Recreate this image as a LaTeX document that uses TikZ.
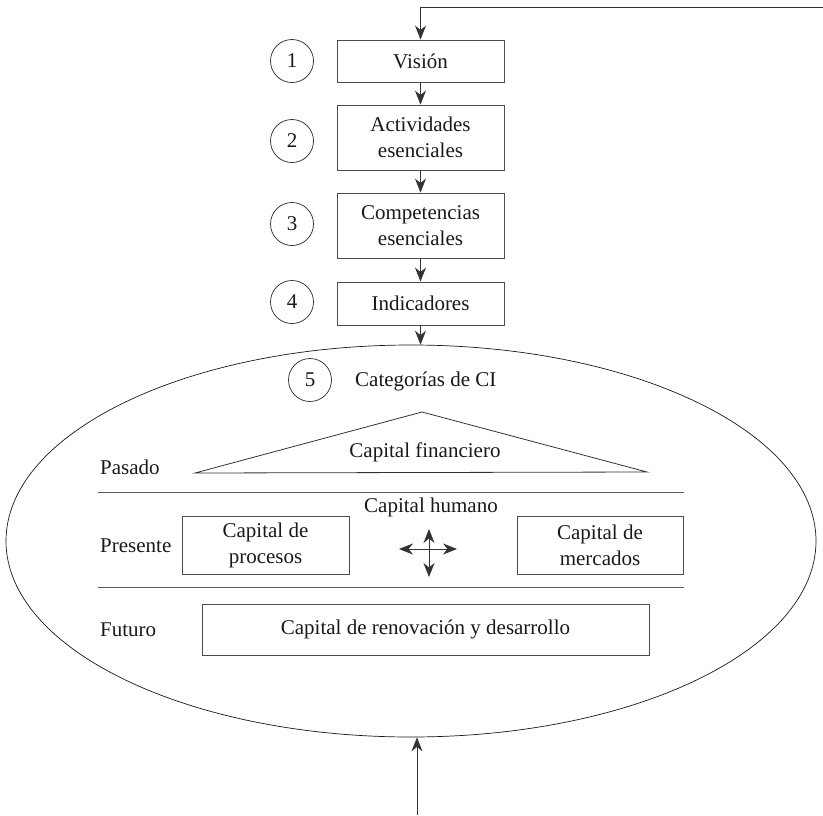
\documentclass[tikz,border=0pt]{standalone}
\usepackage{fontspec}
\setmainfont{Liberation Serif}
\usetikzlibrary{arrows.meta,shapes.geometric}
\begin{document}
\begin{tikzpicture}[x=1pt,y=-1pt,
  every node/.style={font=\fontsize{21}{26}\selectfont, text=black!90, inner sep=0pt},
  box/.style={draw=black!70, line width=0.9pt, minimum width=167pt, align=center},
  num/.style={draw=black!85, circle, line width=0.7pt, minimum size=43pt},
  sep/.style={draw=black!65, line width=1pt},
  tip/.tip={Stealth[length=14pt,width=11pt,inset=4.5pt]},
  arr/.style={draw=black!80, line width=0.8pt, -tip},
  dbl/.style={draw=black!80, line width=0.8pt, tip-tip}
]
\useasboundingbox (0,0) rectangle (823,815);

% top flow boxes
\node[box, minimum height=42pt] (b1) at (420.5,61) {Visión};
\node[box, minimum height=65pt] (b2) at (420.5,137.5) {Actividades\\esenciales};
\node[box, minimum height=65pt] (b3) at (420.5,225.5) {Competencias\\esenciales};
\node[box, minimum height=43pt] (b4) at (420.5,303.5) {Indicadores};

\node[num] (n1) at (292,61) {1};
\node[num] (n2) at (292,141) {2};
\node[num] (n3) at (292,224) {3};
\node[num] (n4) at (292,302) {4};

% ellipse
\node[ellipse, draw=black!90, line width=0.7pt, minimum width=810pt, minimum height=392pt] (ell) at (411,541) {};

\node[num] (n5) at (310,380) {5};
\node[anchor=west] (cat) at (355,381) {Categorías de CI};

% feedback line
\coordinate (fb) at (823,7);
\draw[arr] (fb) -- (fb -| b1.north) -- (b1.north);
\draw[arr] (b1.south) -- (b2.north);
\draw[arr] (b2.south) -- (b3.north);
\draw[arr] (b3.south) -- (b4.north);
\draw[arr] (b4.south) -- (b4.south |- ell.north);

% bottom arrow
\coordinate (bot) at (417,815);
\draw[arr] (bot) -- (bot |- ell.south);

% Pasado row
\node[anchor=west] (pas) at (100,467) {Pasado};
\coordinate (tl) at (195,473);
\coordinate (tt) at (422,412);
\coordinate (tr) at (647,472);
\draw[draw=black!80, line width=0.8pt] (tl) -- (tt) -- (tr) -- cycle;
\node (fin) at (425,452) {Capital financiero};

\coordinate (s1a) at (98,492);
\coordinate (s1b) at (684,492);
\draw[sep] (s1a) -- (s1b);

% Presente row
\node[anchor=west] (pre) at (100,546) {Presente};
\node[box, minimum width=167pt, minimum height=58pt] (proc) at (265.5,545) {Capital de\\procesos};
\node[box, minimum width=166pt, minimum height=58pt] (merc) at (600,545) {Capital de\\mercados};
\node (hum) at (431,507) {Capital humano};
\coordinate (cu) at (429,529);
\coordinate (cd) at (429,577);
\coordinate (cl) at (399,549);
\coordinate (cr) at (457,549);
\draw[dbl] (cu) -- (cd);
\draw[dbl] (cl) -- (cr);

\coordinate (s2a) at (98,587);
\coordinate (s2b) at (684,587);
\draw[sep] (s2a) -- (s2b);

% Futuro row
\node[anchor=west] (fut) at (100,630) {Futuro};
\node[box, minimum width=447pt, minimum height=51pt] (ren) at (425.5,629.5) {Capital de renovación y desarrollo};
\end{tikzpicture}
\end{document}
